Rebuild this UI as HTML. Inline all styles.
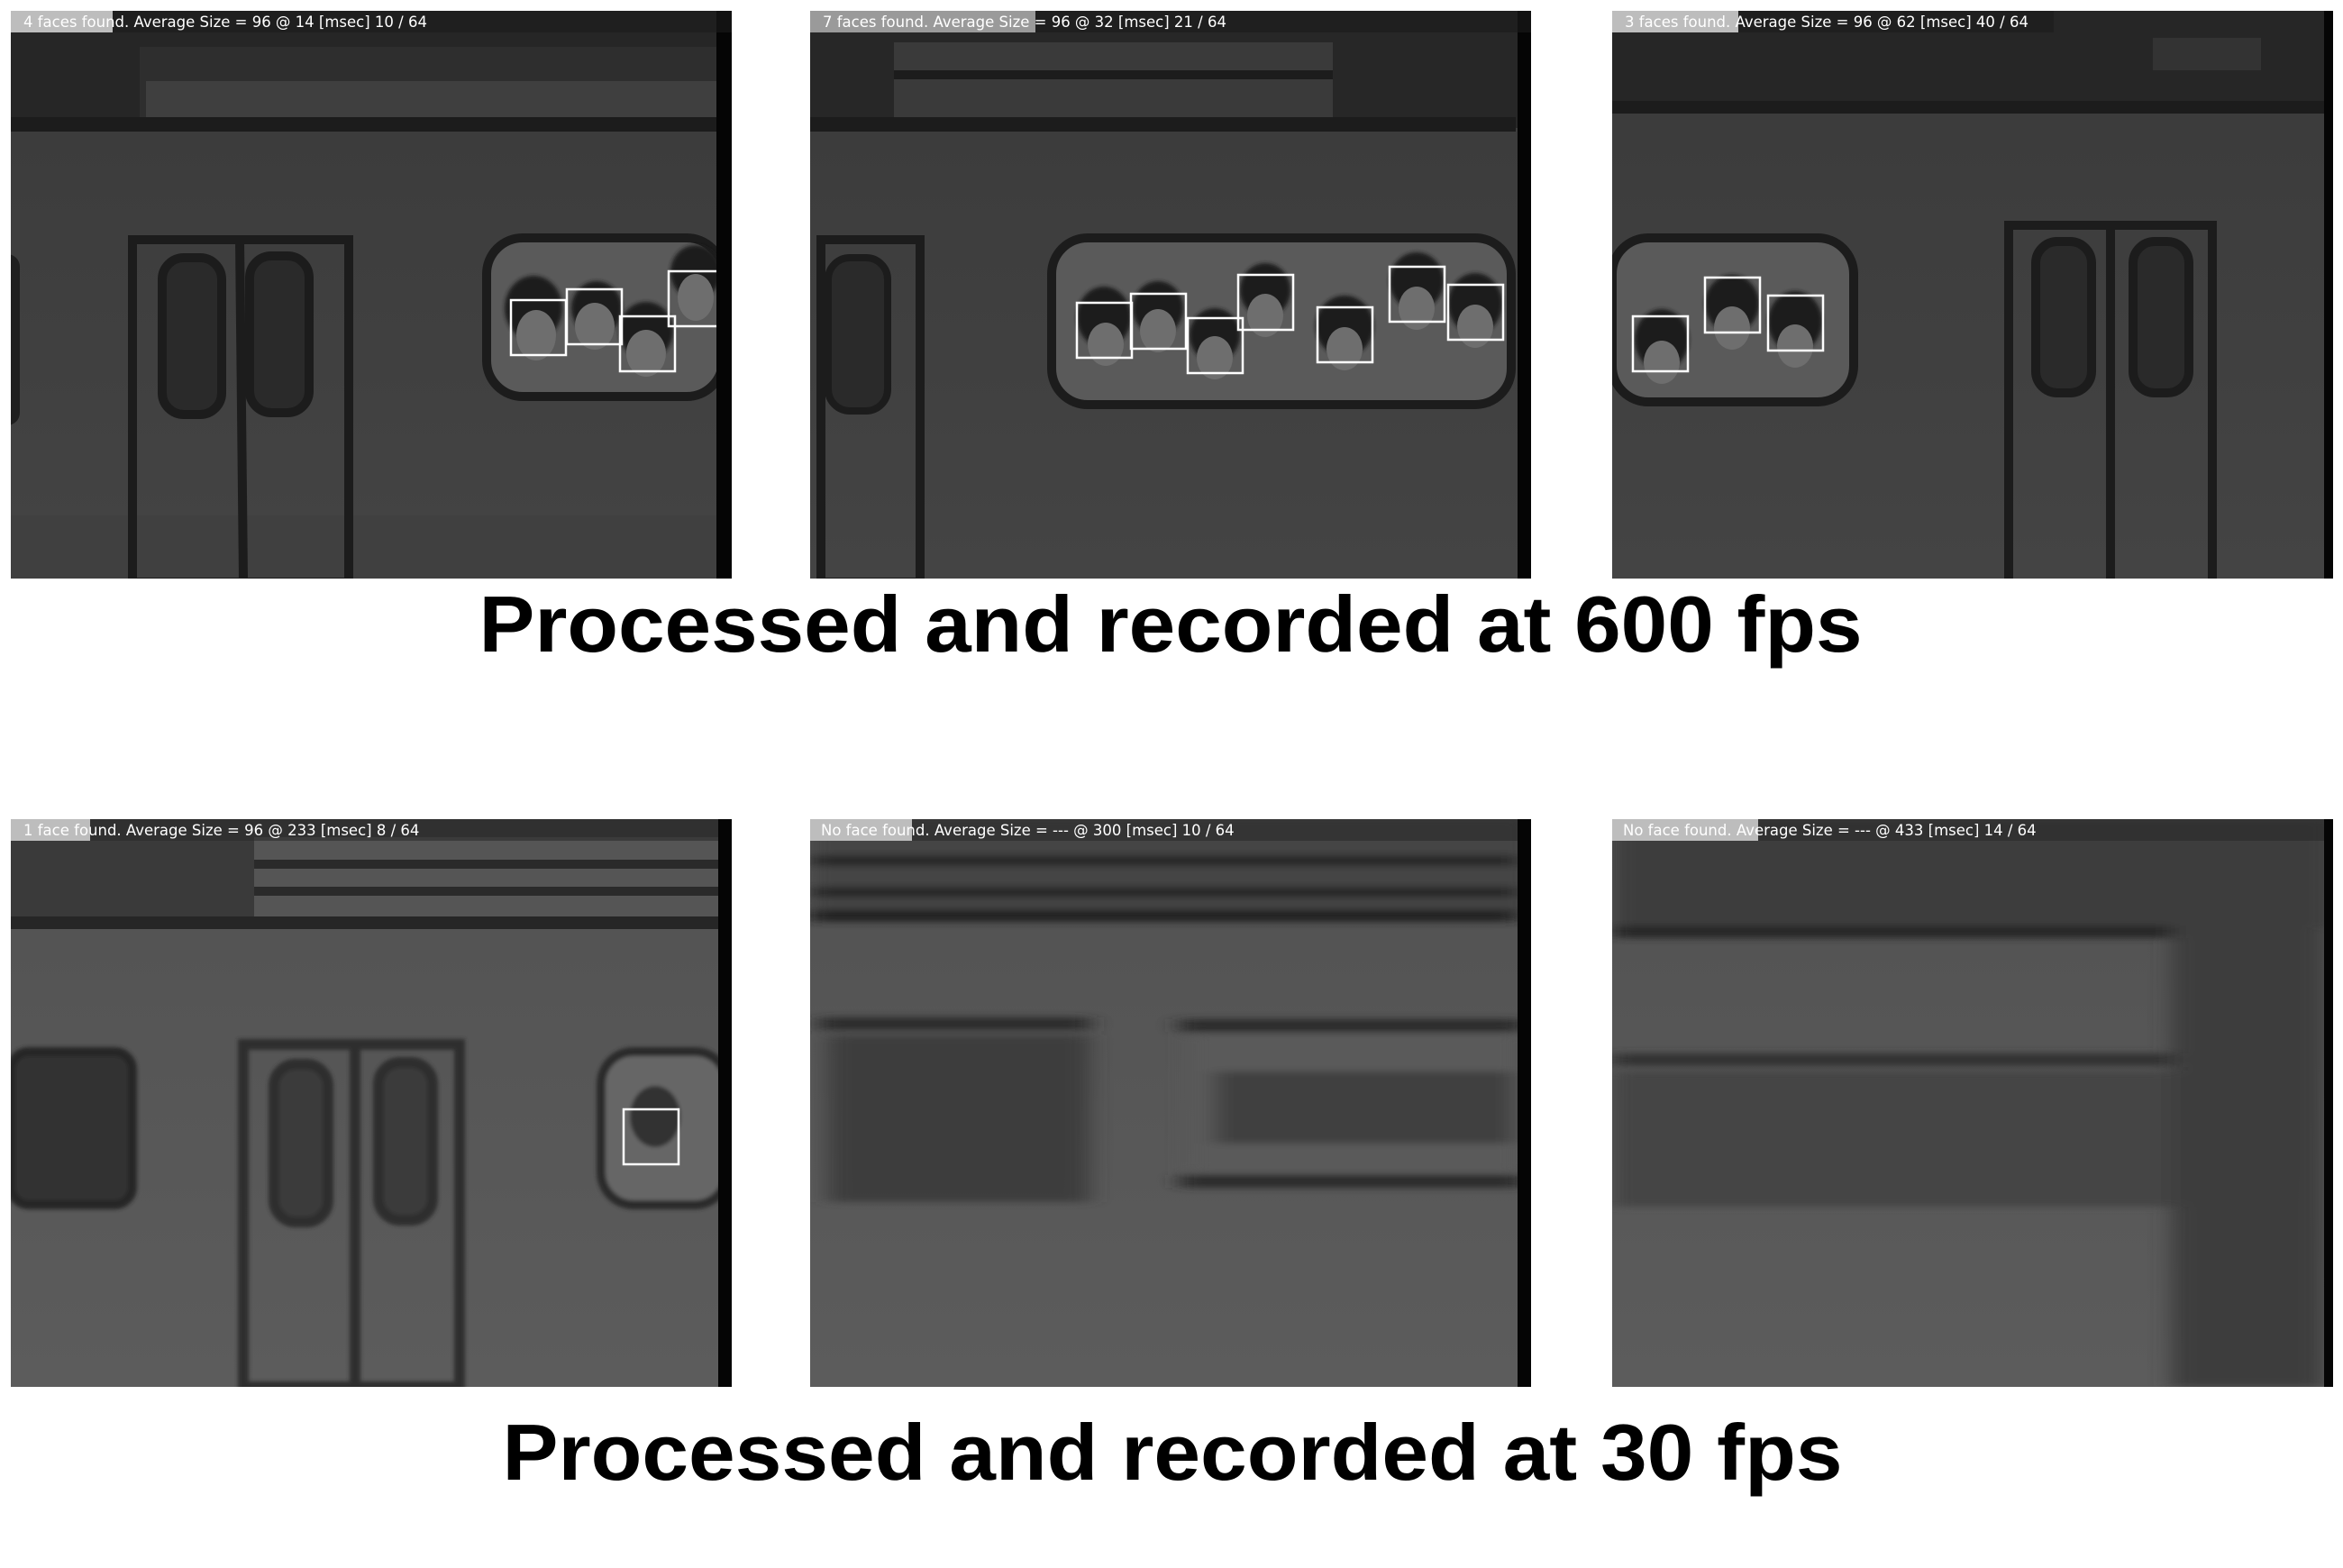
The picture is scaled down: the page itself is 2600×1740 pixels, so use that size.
<!DOCTYPE html>
<html><head><meta charset="utf-8"><style>
html,body{margin:0;padding:0;background:#fff;width:2600px;height:1740px;overflow:hidden}
svg{display:block}
.lbl{font-family:"DejaVu Sans","Liberation Sans",sans-serif;font-size:16.5px;fill:#fff}
.ttl{font-family:"Liberation Sans",sans-serif;font-weight:bold;font-size:88px;fill:#000}
</style></head><body>
<svg width="2600" height="1740" viewBox="0 0 2600 1740">
<defs>
<linearGradient id="body1" x1="0" y1="0" x2="0" y2="1"><stop offset="0" stop-color="#3a3a3a"/><stop offset="1" stop-color="#444"/></linearGradient>
<linearGradient id="body2" x1="0" y1="0" x2="0" y2="1"><stop offset="0" stop-color="#525252"/><stop offset="1" stop-color="#5c5c5c"/></linearGradient>
<filter id="blur" x="-10%" y="-10%" width="120%" height="120%"><feGaussianBlur stdDeviation="12 4"/></filter>
<filter id="sblur"><feGaussianBlur stdDeviation="2"/></filter>
<clipPath id="pc"><rect x="0" y="0" width="800" height="630"/></clipPath>
</defs>

<!-- Panel 1 -->
<g transform="translate(12,12)"><g clip-path="url(#pc)">
<rect width="800" height="630" fill="url(#body1)"/>
<rect width="800" height="130" fill="#262626"/>
<rect x="143" y="40" width="640" height="90" fill="#2e2e2e"/>
<rect x="150" y="78" width="633" height="40" fill="#3f3f3f"/>
<rect x="0" y="118" width="783" height="16" fill="#1c1c1c"/>
<rect x="0" y="560" width="783" height="70" fill="#404040"/>
<g fill="none" stroke="#1c1c1c" stroke-width="10">
<rect x="135" y="254" width="240" height="380"/>
<line x1="254" y1="254" x2="258" y2="630"/>
<rect x="168" y="274" width="66" height="174" rx="24" fill="#2a2a2a"/>
<rect x="265" y="272" width="66" height="174" rx="24" fill="#2a2a2a"/>
</g>
<rect x="-20" y="270" width="30" height="190" rx="14" fill="#1f1f1f"/>
<rect x="528" y="252" width="262" height="176" rx="40" fill="#5a5a5a" stroke="#1c1c1c" stroke-width="10"/>
<g fill="#1e1e1e" filter="url(#sblur)">
<ellipse cx="580" cy="330" rx="32" ry="36"/><ellipse cx="650" cy="330" rx="28" ry="30"/><ellipse cx="705" cy="355" rx="30" ry="32"/><ellipse cx="760" cy="290" rx="28" ry="30"/>
</g>
<g fill="#6e6e6e"><ellipse cx="583" cy="360" rx="22" ry="28"/><ellipse cx="648" cy="350" rx="22" ry="26"/><ellipse cx="705" cy="380" rx="22" ry="26"/><ellipse cx="760" cy="318" rx="20" ry="26"/></g>
<g fill="none" stroke="#fff" stroke-width="2.5">
<rect x="555" y="321" width="61" height="61"/><rect x="617" y="309" width="61" height="61"/><rect x="676" y="339" width="61" height="61"/><rect x="730" y="289" width="61" height="61"/>
</g>
<rect x="783" y="0" width="17" height="630" fill="#050505"/>
<rect x="0" y="0" width="800" height="24" fill="#1a1a1a" opacity="0.6"/>
<rect x="0" y="0" width="113" height="24" fill="#bdbdbd"/>
<text class="lbl" x="14" y="18">4 faces found. Average Size = 96 @ 14 [msec] 10 / 64</text>
</g></g>

<!-- Panel 2 -->
<g transform="translate(899,12)"><g clip-path="url(#pc)">
<rect width="800" height="630" fill="url(#body1)"/>
<rect width="800" height="130" fill="#272727"/>
<rect x="93" y="35" width="487" height="83" fill="#3a3a3a"/>
<rect x="93" y="66" width="487" height="10" fill="#1c1c1c"/>
<rect x="0" y="118" width="783" height="16" fill="#1c1c1c"/>
<rect x="12" y="254" width="110" height="380" fill="none" stroke="#1c1c1c" stroke-width="10"/>
<rect x="20" y="274" width="66" height="170" rx="24" fill="#2a2a2a" stroke="#1c1c1c" stroke-width="8"/>
<rect x="268" y="252" width="510" height="185" rx="40" fill="#5a5a5a" stroke="#1c1c1c" stroke-width="10"/>
<g fill="#1e1e1e" filter="url(#sblur)">
<ellipse cx="326" cy="340" rx="30" ry="34"/><ellipse cx="386" cy="330" rx="28" ry="30"/><ellipse cx="449" cy="360" rx="28" ry="30"/><ellipse cx="505" cy="310" rx="28" ry="30"/><ellipse cx="593" cy="350" rx="32" ry="34"/><ellipse cx="673" cy="300" rx="30" ry="32"/><ellipse cx="738" cy="325" rx="30" ry="34"/>
</g>
<g fill="#6e6e6e"><ellipse cx="328" cy="370" rx="20" ry="24"/><ellipse cx="386" cy="355" rx="20" ry="24"/><ellipse cx="449" cy="385" rx="20" ry="24"/><ellipse cx="505" cy="338" rx="20" ry="24"/><ellipse cx="593" cy="375" rx="20" ry="24"/><ellipse cx="673" cy="330" rx="20" ry="24"/><ellipse cx="738" cy="350" rx="20" ry="24"/></g>
<g fill="none" stroke="#fff" stroke-width="2.5">
<rect x="296" y="324" width="61" height="61"/><rect x="356" y="314" width="61" height="61"/><rect x="419" y="341" width="61" height="61"/><rect x="475" y="293" width="61" height="61"/><rect x="563" y="329" width="61" height="61"/><rect x="643" y="284" width="61" height="61"/><rect x="708" y="304" width="61" height="61"/>
</g>
<rect x="785" y="0" width="15" height="630" fill="#050505"/>
<rect x="0" y="0" width="800" height="24" fill="#1a1a1a" opacity="0.6"/>
<rect x="0" y="0" width="250" height="24" fill="#9a9a9a"/>
<text class="lbl" x="14" y="18">7 faces found. Average Size = 96 @ 32 [msec] 21 / 64</text>
</g></g>

<!-- Panel 3 -->
<g transform="translate(1789,12)"><g clip-path="url(#pc)">
<rect width="800" height="630" fill="url(#body1)"/>
<rect width="800" height="110" fill="#262626"/>
<rect x="0" y="100" width="800" height="14" fill="#1c1c1c"/>
<rect x="600" y="30" width="120" height="36" fill="#333"/>
<rect x="0" y="252" width="268" height="182" rx="40" fill="#5a5a5a" stroke="#1c1c1c" stroke-width="10"/>
<g fill="#1e1e1e" filter="url(#sblur)"><ellipse cx="55" cy="365" rx="30" ry="34"/><ellipse cx="133" cy="325" rx="30" ry="32"/><ellipse cx="203" cy="345" rx="30" ry="34"/></g>
<g fill="#6e6e6e"><ellipse cx="55" cy="390" rx="20" ry="24"/><ellipse cx="133" cy="352" rx="20" ry="24"/><ellipse cx="203" cy="372" rx="20" ry="24"/></g>
<g fill="none" stroke="#fff" stroke-width="2.5">
<rect x="23" y="339" width="61" height="61"/><rect x="103" y="296" width="61" height="61"/><rect x="173" y="316" width="61" height="61"/>
</g>
<g fill="none" stroke="#1c1c1c" stroke-width="10">
<rect x="440" y="238" width="226" height="400"/>
<line x1="553" y1="238" x2="553" y2="630"/>
<rect x="470" y="256" width="62" height="168" rx="24" fill="#2a2a2a"/>
<rect x="578" y="256" width="62" height="168" rx="24" fill="#2a2a2a"/>
</g>
<rect x="790" y="0" width="10" height="630" fill="#050505"/>
<rect x="0" y="0" width="490" height="24" fill="#1a1a1a" opacity="0.6"/>
<rect x="0" y="0" width="140" height="24" fill="#bdbdbd"/>
<text class="lbl" x="14" y="18">3 faces found. Average Size = 96 @ 62 [msec] 40 / 64</text>
</g></g>

<text class="ttl" x="1299" y="723" text-anchor="middle" textLength="1535" lengthAdjust="spacingAndGlyphs">Processed and recorded at 600 fps</text>

<!-- Panel 4 -->
<g transform="translate(12,909)"><g clip-path="url(#pc)">
<rect width="800" height="630" fill="url(#body2)"/>
<rect width="800" height="115" fill="#3a3a3a"/>
<rect x="270" y="20" width="515" height="95" fill="#555"/>
<rect x="270" y="45" width="515" height="10" fill="#2a2a2a"/>
<rect x="270" y="75" width="515" height="10" fill="#2a2a2a"/>
<rect x="0" y="108" width="785" height="14" fill="#262626"/>
<g filter="url(#sblur)">
<rect x="0" y="258" width="135" height="170" rx="20" fill="#333" stroke="#262626" stroke-width="10"/>
<g fill="none" stroke="#2e2e2e" stroke-width="12">
<rect x="258" y="250" width="240" height="380"/>
<line x1="382" y1="250" x2="382" y2="630"/>
<rect x="292" y="272" width="60" height="175" rx="24" fill="#3a3a3a"/>
<rect x="408" y="270" width="60" height="175" rx="24" fill="#3a3a3a"/>
</g>
<rect x="655" y="258" width="140" height="170" rx="36" fill="#666" stroke="#2a2a2a" stroke-width="10"/>
<ellipse cx="715" cy="330" rx="28" ry="34" fill="#333"/>
</g>
<rect x="680" y="322" width="61" height="61" fill="none" stroke="#fff" stroke-width="2.5"/>
<rect x="785" y="0" width="15" height="630" fill="#050505"/>
<rect x="0" y="0" width="785" height="24" fill="#2a2a2a" opacity="0.6"/>
<rect x="0" y="0" width="88" height="24" fill="#bdbdbd"/>
<text class="lbl" x="14" y="18">1 face found. Average Size = 96 @ 233 [msec] 8 / 64</text>
</g></g>

<!-- Panel 5 -->
<g transform="translate(899,909)"><g clip-path="url(#pc)">
<rect width="800" height="630" fill="url(#body2)"/>
<g filter="url(#blur)">
<rect width="800" height="105" fill="#444"/>
<rect x="0" y="40" width="785" height="12" fill="#262626"/>
<rect x="0" y="75" width="785" height="12" fill="#262626"/>
<rect x="0" y="100" width="785" height="14" fill="#222"/>
<rect x="10" y="220" width="300" height="14" fill="#2a2a2a"/>
<rect x="20" y="240" width="290" height="185" fill="#3c3c3c"/>
<rect x="410" y="222" width="380" height="14" fill="#2a2a2a"/>
<rect x="420" y="240" width="370" height="150" fill="#5a5a5a"/>
<rect x="450" y="280" width="330" height="80" fill="#404040"/>
<rect x="410" y="395" width="380" height="14" fill="#2a2a2a"/>
</g>
<rect x="785" y="0" width="15" height="630" fill="#050505"/>
<rect x="0" y="0" width="785" height="24" fill="#2a2a2a" opacity="0.6"/>
<rect x="0" y="0" width="113" height="24" fill="#bdbdbd"/>
<text class="lbl" x="12" y="18">No face found. Average Size = --- @ 300 [msec] 10 / 64</text>
</g></g>

<!-- Panel 6 -->
<g transform="translate(1789,909)"><g clip-path="url(#pc)">
<rect width="800" height="630" fill="url(#body2)"/>
<g filter="url(#blur)">
<rect width="800" height="120" fill="#3e3e3e"/>
<rect x="0" y="118" width="620" height="14" fill="#262626"/>
<rect x="0" y="260" width="620" height="14" fill="#303030"/>
<rect x="0" y="280" width="620" height="150" fill="#454545"/>
<rect x="620" y="0" width="170" height="630" fill="#3c3c3c"/>
</g>
<rect x="790" y="0" width="10" height="630" fill="#050505"/>
<rect x="0" y="0" width="790" height="24" fill="#2a2a2a" opacity="0.6"/>
<rect x="0" y="0" width="162" height="24" fill="#bdbdbd"/>
<text class="lbl" x="12" y="18">No face found. Average Size = --- @ 433 [msec] 14 / 64</text>
</g></g>

<text class="ttl" x="1301" y="1642" text-anchor="middle" textLength="1487" lengthAdjust="spacingAndGlyphs">Processed and recorded at 30 fps</text>
</svg>
</body></html>
